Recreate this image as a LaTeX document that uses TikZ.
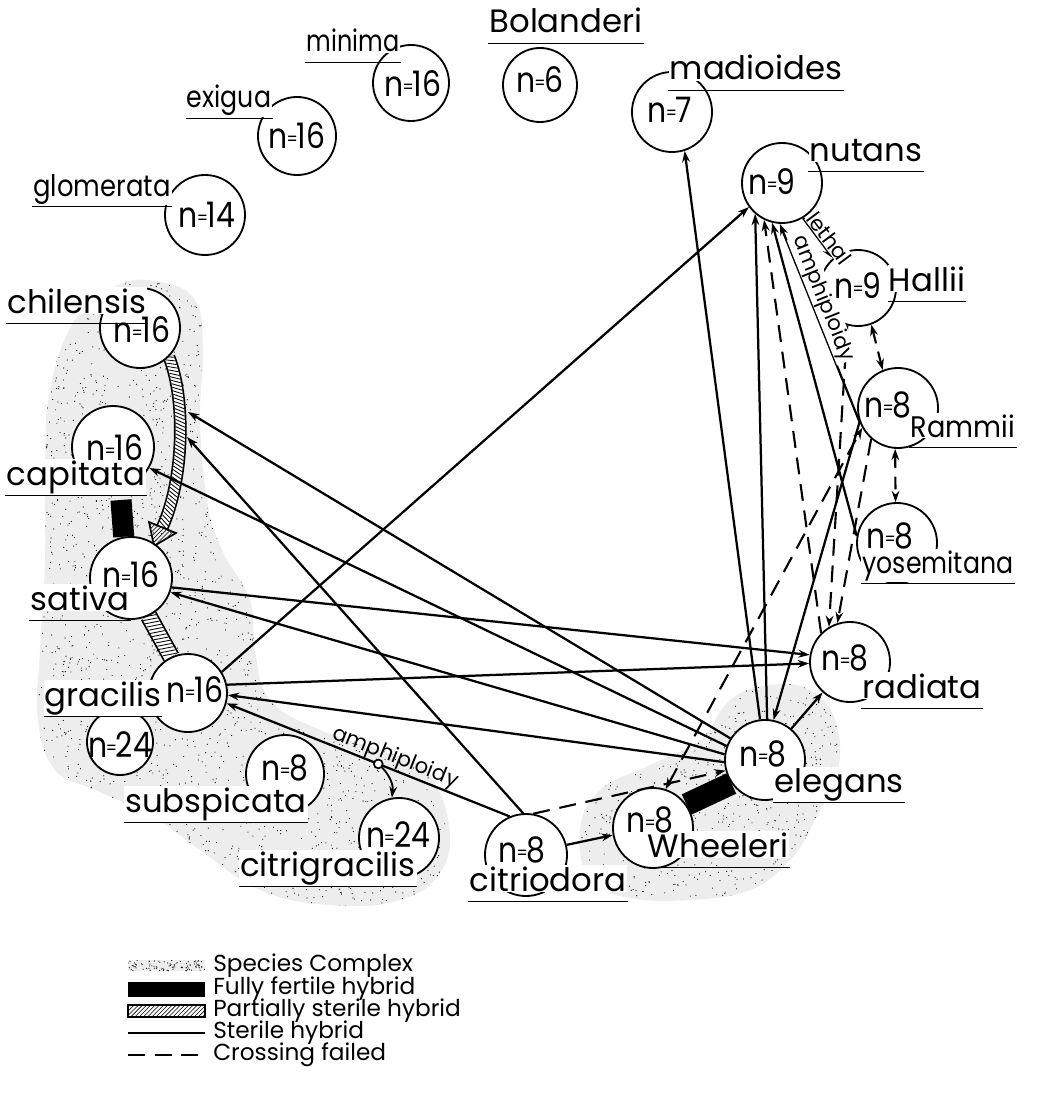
\documentclass[tikz,border=0pt]{standalone}
\usepackage{fontspec}
\newfontfamily\lett{Poppins}
\usetikzlibrary{arrows.meta,decorations.markings,patterns}
\pgfdeclarelayer{stip}
\pgfdeclarelayer{bg}
\pgfsetlayers{stip,bg,main}
\newcommand\chrom[1]{\scalebox{0.85}[1]{n\kern-1pt{\fontsize{13}{13}\selectfont\raisebox{2.5pt}{=}}\kern-1pt#1}}
\newcommand\sq[2]{\scalebox{#1}[0.92]{#2}}
\begin{document}
\begin{tikzpicture}[x=0.025cm,y=-0.025cm,
  sp/.style={circle, draw, line width=1.3pt, fill=white, inner sep=0pt},
  lab/.style={font=\lett\fontsize{23}{26}\selectfont, inner sep=0.8pt, fill=white, anchor=base},
  ntext/.style={font=\lett\fontsize{25}{27}\selectfont, inner sep=0pt},
  ul/.style={line width=1.3pt},
  tipA/.tip={Stealth[length=8pt,width=5.5pt]},
  ster/.style={line width=1.6pt, -tipA},
  fail/.style={line width=1.5pt, dash pattern=on 12pt off 7pt, -tipA},
  failtwo/.style={line width=1.5pt, dash pattern=on 9pt off 6pt, tipA-tipA},
  fert/.style={line width=15pt},
  small/.style={font=\lett\fontsize{15}{18}\selectfont, inner sep=0.6pt},
  legtxt/.style={font=\lett\fontsize{16.5}{18}\selectfont, inner sep=0pt, anchor=west},
  hatch/.style={postaction={decorate, decoration={markings, mark=between positions 0 and 1 step 2.6pt with {\draw[line width=0.6pt] (-1.6pt,-#1) -- (1.6pt,#1);}}}}
]
\useasboundingbox (0,0) rectangle (1054,1097);

% ---------- species complex stipple ----------
\begin{pgfonlayer}{stip}
\begin{scope}
\clip plot[smooth cycle, tension=0.7] coordinates {(118,285) (160,282) (195,300) (203,350) (200,420) (207,500) (222,550) (250,600) (255,650) (270,700) (320,730) (380,750) (425,770) (448,820) (442,870) (400,900) (330,905) (260,890) (200,850) (150,815) (95,790) (55,770) (38,720) (40,650) (45,560) (45,470) (50,390) (75,320)};
\fill[black!7] (0,250) rectangle (470,920);
\pgfmathsetseed{7}
\foreach \i in {1,...,4200}{\fill ({rnd*470},{250+rnd*670}) circle (0.42pt);}
\end{scope}
\begin{scope}
\clip plot[smooth cycle, tension=0.7] coordinates {(580,830) (600,790) (650,765) (700,740) (730,700) (770,685) (810,690) (835,720) (838,770) (815,820) (790,860) (750,890) (690,900) (630,898) (590,880)};
\fill[black!7] (560,670) rectangle (850,910);
\pgfmathsetseed{11}
\foreach \i in {1,...,1000}{\fill ({560+rnd*290},{670+rnd*240}) circle (0.42pt);}
\end{scope}
\begin{scope}
\clip (128,960) rectangle (205,971);
\fill[black!7] (128,960) rectangle (205,971);
\pgfmathsetseed{3}
\foreach \i in {1,...,90}{\fill ({128+rnd*77},{960+rnd*11}) circle (0.42pt);}
\end{scope}
\end{pgfonlayer}

% ---------- species circles ----------
\node[sp,minimum size=2cm]    (glom) at (205,215) {};
\node[sp,minimum size=1.95cm] (exig) at (297,136) {};
\node[sp,minimum size=1.9cm]  (mini) at (411,83) {};
\node[sp,minimum size=1.85cm] (bola) at (540,85) {};
\node[sp,minimum size=2cm]    (madi) at (672,112) {};
\node[sp,minimum size=2cm]    (nuta) at (782,183) {};
\node[sp,minimum size=1.9cm]  (hall) at (858,288) {};
\node[sp,minimum size=2cm]    (ramm) at (898,408) {};
\node[sp,minimum size=2cm]    (yose) at (897,543) {};
\node[sp,minimum size=2cm]    (radi) at (850,662) {};
\node[sp,minimum size=2cm]    (eleg) at (765,760) {};
\node[sp,minimum size=2cm]    (whee) at (653,828) {};
\node[sp,minimum size=2.05cm] (citr) at (526,855) {};
\node[sp,minimum size=2cm]    (cgra) at (399,838) {};
\node[sp,minimum size=1.95cm] (subs) at (285,774) {};
\node[sp,minimum size=1.65cm] (gr24) at (120,742) {};
\node[sp,minimum size=1.95cm] (grac) at (188,693) {};
\node[sp,minimum size=2.05cm] (sati) at (131,578) {};
\node[sp,minimum size=2.05cm] (capi) at (113,447) {};
\node[sp,minimum size=2cm]    (chil) at (140,328) {};

% ---------- connectors ----------
\coordinate (bandE) at (188,412);
\coordinate (bandC) at (187,437);
\coordinate (fcap) at (121,500);
\begin{pgfonlayer}{bg}
% fully fertile
\draw[fert] (fcap) -- (sati.100);
\draw[fert,line width=16pt] (whee.35) -- (eleg.215);
% partially sterile: chilensis -> sativa
\draw[line width=9pt] (chil.-45) .. controls (186,400) and (184,480) .. (162,528);
\draw[line width=6.6pt,white] (chil.-45) .. controls (186,400) and (184,480) .. (162,528);
\path[hatch=3.3pt] (chil.-45) .. controls (186,400) and (184,480) .. (162,528);
\draw[line width=1.2pt, fill=white, pattern=north east lines, line join=miter] (149,522) -- (176,533) -- (154,546) -- cycle;
% partially sterile: sativa -- gracilis
\draw[line width=12.5pt] (sati.-65) -- (grac.115);
\draw[line width=10pt,white] (sati.-65) -- (grac.115);
\path[hatch=5pt] (sati.-65) -- (grac.115);
% sterile hybrids
\draw[ster] (eleg.97) -- (madi.288);
\draw[ster] (eleg.87) -- (nuta.229);
\draw[ster] (ramm.200) -- (eleg.78);
\draw[ster] (grac.32) -- (nuta.216);
\draw[ster] (yose.170) -- (nuta.256);
\draw[ster] (ramm.200) -- (nuta.267);
\draw[ster] (nuta.301) -- (hall.130);
\draw[ster] (sati.-13) -- (radi.170);
\draw[ster] (grac.12) -- (radi.182);
\draw[ster] (eleg.148) -- (bandE);
\draw[ster] (eleg.160) -- (capi.-30);
\draw[ster] (eleg.172) -- (sati.-20);
\draw[ster] (eleg.183) -- (grac.-3);
\draw[ster] (citr.94) -- (bandC);
\draw[ster] (citr.113) -- (grac.-15);
\draw[ster] (citr.14) -- (whee.190);
\draw[ster] (eleg.50) -- (radi.228);
% crossing failed
\draw[fail] (radi.135) -- (nuta.244);
\draw[fail] (hall.254) -- (radi.121);
\draw[fail] (ramm.229) -- (radi.108);
\draw[fail] (citr.80) -- (eleg.195);
\draw[failtwo] (hall.290) -- (ramm.112);
\draw[failtwo] (ramm.266) -- (yose.92);
\draw[failtwo, dash pattern=on 12pt off 7pt] (whee.72) -- (ramm.209);
\end{pgfonlayer}

% line labels and the amphiploidy branch (on top)
\path (ramm.200) -- node[small, fill=white, pos=0.6, above, sloped] (Lamph) {amphiploidy} (nuta.267);
\path (nuta.301) -- node[small, fill=white, pos=0.64, above, sloped] (Lleth) {lethal} (hall.130);
\path (citr.113) -- node[small, pos=0.42, above, sloped] (Lamph2) {amphiploidy}
   node[circle, draw, fill=white, line width=1.2pt, inner sep=0pt, minimum size=0.22cm, pos=0.464] (branch) {} (grac.-15);
\draw[ster, line width=1.3pt] (branch) to[bend left=25] (cgra.100);

% ---------- species names ----------
\node[lab] (Lglom) at (102,196) {\sq{0.8}{glomerata}};
\node[lab] (Lexig) at (229,108) {\sq{0.78}{exigua}};
\node[lab] (Lmini) at (353,52) {\sq{0.74}{minima}};
\node[lab] (Lbola) at (566,33) {Bolanderi};
\node[lab] (Lmadi) at (756,80) {madioides};
\node[lab] (Lnuta) at (866,161) {nutans};
\node[lab] (Lhall) at (927,291) {Hallii};
\node[lab] (Lramm) at (963,437) {\sq{0.84}{Rammii}};
\node[lab] (Lyose) at (938,573) {\sq{0.78}{yosemitana}};
\node[lab] (Lradi) at (922,698) {radiata};
\node[lab] (Leleg) at (839,792) {elegans};
\node[lab] (Lwhee) at (718,857) {Wheeleri};
\node[lab] (Lcitr) at (548,891) {citriodora};
\node[lab] (Lcgra) at (328,876) {citrigracilis};
\node[lab] (Lsubs) at (216,812) {subspicata};
\node[lab] (Lgrac) at (103,706) {gracilis};
\node[lab] (Lsati) at (80,610) {sativa};
\node[lab] (Lcapi) at (76,485) {capitata};
\node[lab] (Lchil) at (77,313) {chilensis};
\foreach \l in {Lglom,Lexig,Lmini,Lbola,Lmadi,Lnuta,Lhall,Lramm,Lyose,Lradi,Leleg,Lwhee,Lcitr,Lcgra,Lsubs,Lgrac,Lsati,Lcapi,Lchil}{
  \draw[ul] ([yshift=-7.5pt]\l.base west) -- ([yshift=-7.5pt]\l.base east);
}

% ---------- chromosome numbers ----------
\node[ntext] (nglom) at (207,215) {\chrom{14}};
\node[ntext] (nexig) at (297,136) {\chrom{16}};
\node[ntext] (nmini) at (413,84) {\chrom{16}};
\node[ntext] (nbola) at (540,80) {\chrom{6}};
\node[ntext] (nmadi) at (670,110) {\chrom{7}};
\node[ntext] (nnuta) at (772,182) {\chrom{9}};
\node[ntext] (nhall) at (858,286) {\chrom{9}};
\node[ntext] (nramm) at (888,405) {\chrom{8}};
\node[ntext] (nyose) at (890,536) {\chrom{8}};
\node[ntext] (nradi) at (845,658) {\chrom{8}};
\node[ntext] (neleg) at (763,754) {\chrom{8}};
\node[ntext] (nwhee) at (650,820) {\chrom{8}};
\node[ntext] (ncitr) at (522,850) {\chrom{8}};
\node[ntext] (ncgra) at (398,835) {\chrom{24}};
\node[ntext] (nsubs) at (285,768) {\chrom{8}};
\node[ntext] (ngr24) at (120,745) {\chrom{24}};
\node[ntext] (ngrac) at (195,690) {\chrom{16}};
\node[ntext] (nsati) at (131,575) {\chrom{16}};
\node[ntext] (ncapi) at (115,448) {\chrom{16}};
\node[ntext] (nchil) at (142,330) {\chrom{16}};

% ---------- legend ----------
\fill (128,982) rectangle (205,997);
\draw[line width=1.2pt, pattern=north east lines] (128,1005) rectangle (205,1017);
\draw[line width=1.6pt] (128,1033) -- (205,1033);
\draw[line width=1.5pt, dash pattern=on 12pt off 7pt] (128,1055) -- (205,1055);
\node[legtxt] (T1) at (213,966) {Species Complex};
\node[legtxt] (T2) at (213,989) {Fully fertile hybrid};
\node[legtxt] (T3) at (213,1011) {Partially sterile hybrid};
\node[legtxt] (T4) at (213,1033) {Sterile hybrid};
\node[legtxt] (T5) at (213,1055) {Crossing failed};
\end{tikzpicture}
\end{document}
